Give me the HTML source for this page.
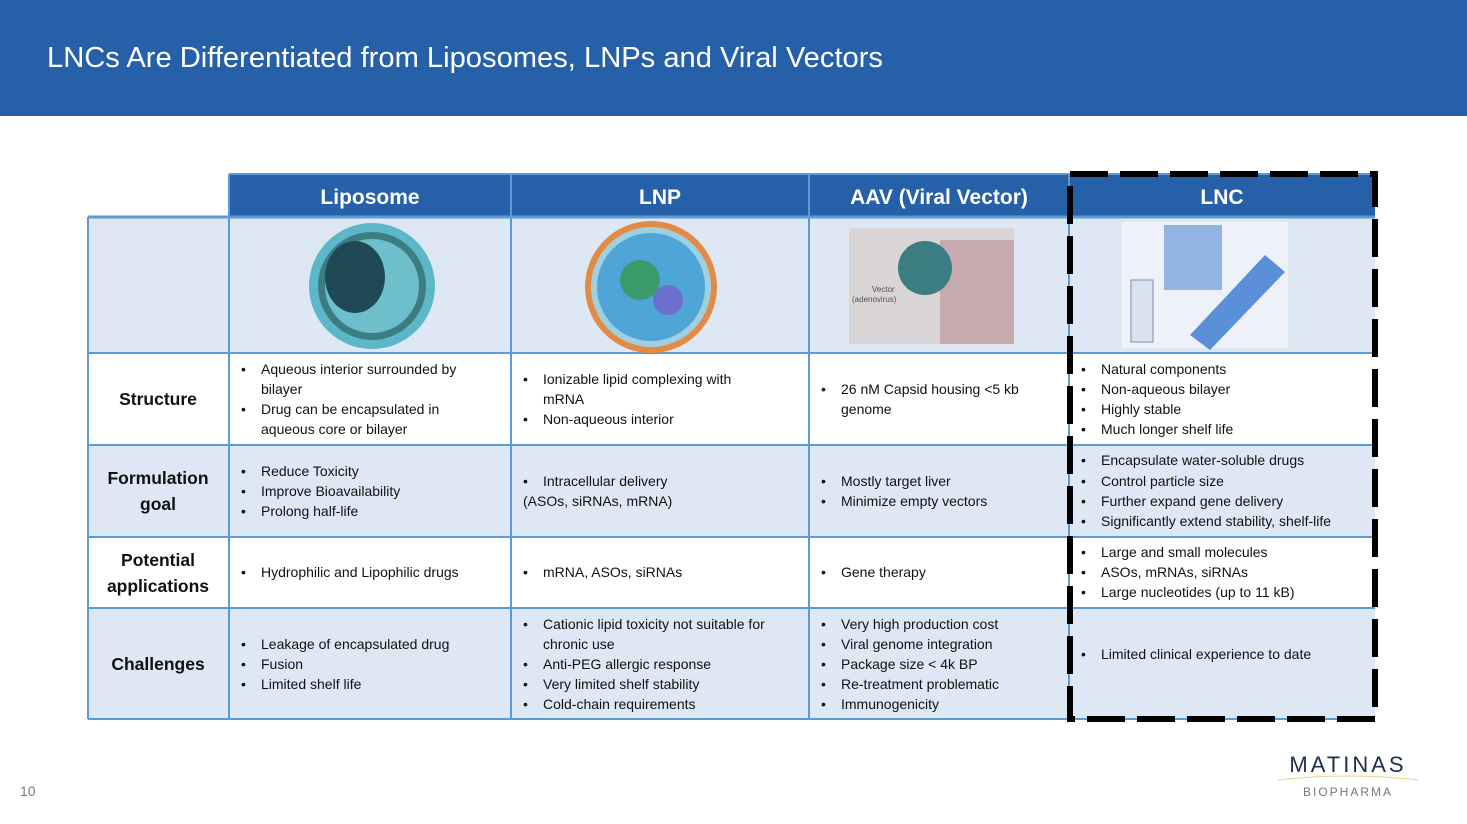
<!DOCTYPE html>
<html><head><meta charset="utf-8"><style>
html,body{margin:0;padding:0;background:#fff;}
svg{display:block;}
text{font-family:"Liberation Sans",sans-serif;}
.t{font-size:14px;fill:#111;}
.h{font-size:21px;font-weight:bold;fill:#fff;text-anchor:middle;}
.l{font-size:17.5px;font-weight:bold;fill:#111;text-anchor:middle;}
</style></head><body>
<svg width="1467" height="824" viewBox="0 0 1467 824" xmlns="http://www.w3.org/2000/svg">
<rect x="0" y="0" width="1467" height="116" fill="#2560a8"/>
<text x="47" y="67" font-size="29" fill="#fff" textLength="836" lengthAdjust="spacingAndGlyphs">LNCs Are Differentiated from Liposomes, LNPs and Viral Vectors</text>

<!-- rows backgrounds -->
<rect x="229" y="174" width="1146" height="43" fill="#2660a9"/>
<rect x="88" y="218" width="1287" height="135" fill="#dde8f4"/>
<rect x="88" y="353" width="1287" height="92" fill="#fff"/>
<rect x="88" y="445" width="1287" height="92" fill="#dde8f4"/>
<rect x="88" y="537" width="1287" height="71" fill="#fff"/>
<rect x="88" y="608" width="1287" height="111" fill="#dde8f4"/>
<!-- grid -->
<g stroke="#5b9bd5" stroke-width="2" fill="none">
<line x1="88" y1="217" x2="1375" y2="217" stroke-width="3"/>
<line x1="229" y1="174" x2="1375" y2="174"/>
<line x1="88" y1="353" x2="1375" y2="353"/>
<line x1="88" y1="445" x2="1375" y2="445"/>
<line x1="88" y1="537" x2="1375" y2="537"/>
<line x1="88" y1="608" x2="1375" y2="608"/>
<line x1="88" y1="719" x2="1375" y2="719"/>
<line x1="88" y1="217" x2="88" y2="719"/>
<line x1="229" y1="174" x2="229" y2="719"/>
<line x1="511" y1="174" x2="511" y2="719"/>
<line x1="809" y1="174" x2="809" y2="719"/>
<line x1="1069" y1="174" x2="1069" y2="719"/>
</g>
<text class="h" x="370" y="204">Liposome</text>
<text class="h" x="660" y="204">LNP</text>
<text class="h" x="939" y="204">AAV (Viral Vector)</text>
<text class="h" x="1222" y="204">LNC</text>

<!-- images -->
<circle cx="372" cy="286" r="63" fill="#5cb8c9"/>
<circle cx="372" cy="286" r="54" fill="#3c7d84"/>
<circle cx="372" cy="286" r="47" fill="#6dbfcc"/>
<ellipse cx="355" cy="277" rx="30" ry="36" fill="#1f4a55"/>
<circle cx="651" cy="287" r="66" fill="#e58a44"/>
<circle cx="651" cy="287" r="60" fill="#9fd0e0"/>
<circle cx="651" cy="287" r="54" fill="#4fa4d8"/>
<circle cx="640" cy="280" r="20" fill="#3a9a6b"/>
<circle cx="668" cy="300" r="15" fill="#6c6fd0"/>
<rect x="849" y="228" width="165" height="116" fill="#d9d4d6"/>
<rect x="940" y="240" width="74" height="104" fill="#c7a9b0"/>
<circle cx="925" cy="268" r="27" fill="#3c7d84"/>
<text x="872" y="292" font-size="8" fill="#555">Vector</text>
<text x="852" y="302" font-size="8" fill="#555">(adenovirus)</text>
<rect x="1122" y="222" width="166" height="126" fill="#eef2f8"/>
<rect x="1164" y="225" width="58" height="65" fill="#8fb5e0"/>
<rect x="1131" y="280" width="22" height="62" fill="#d9e3f0" stroke="#7b8fb0"/>
<path d="M1190 335 L1265 255 L1285 272 L1210 350 Z" fill="#5b90d8"/>

<!-- row labels -->
<text class="l" x="158" y="405">Structure</text>
<text class="l" x="158" y="484">Formulation</text>
<text class="l" x="158" y="510">goal</text>
<text class="l" x="158" y="566">Potential</text>
<text class="l" x="158" y="592">applications</text>
<text class="l" x="158" y="670">Challenges</text>

<g class="t">
<!-- Structure -->
<text x="241" y="374">•</text><text x="261" y="374">Aqueous interior surrounded by</text>
<text x="261" y="394">bilayer</text>
<text x="241" y="414">•</text><text x="261" y="414">Drug can be encapsulated in</text>
<text x="261" y="434">aqueous core or bilayer</text>
<text x="523" y="384">•</text><text x="543" y="384">Ionizable lipid complexing with</text>
<text x="543" y="404">mRNA</text>
<text x="523" y="424">•</text><text x="543" y="424">Non-aqueous interior</text>
<text x="821" y="394">•</text><text x="841" y="394">26 nM Capsid housing &lt;5 kb</text>
<text x="841" y="414">genome</text>
<text x="1081" y="374">•</text><text x="1101" y="374">Natural components</text>
<text x="1081" y="394">•</text><text x="1101" y="394">Non-aqueous bilayer</text>
<text x="1081" y="414">•</text><text x="1101" y="414">Highly stable</text>
<text x="1081" y="434">•</text><text x="1101" y="434">Much longer shelf life</text>
<!-- Formulation -->
<text x="241" y="476">•</text><text x="261" y="476">Reduce Toxicity</text>
<text x="241" y="496">•</text><text x="261" y="496">Improve Bioavailability</text>
<text x="241" y="516">•</text><text x="261" y="516">Prolong half-life</text>
<text x="523" y="486">•</text><text x="543" y="486">Intracellular delivery</text>
<text x="523" y="506">(ASOs, siRNAs, mRNA)</text>
<text x="821" y="486">•</text><text x="841" y="486">Mostly target liver</text>
<text x="821" y="506">•</text><text x="841" y="506">Minimize empty vectors</text>
<text x="1081" y="465">•</text><text x="1101" y="465">Encapsulate water-soluble drugs</text>
<text x="1081" y="486">•</text><text x="1101" y="486">Control particle size</text>
<text x="1081" y="506">•</text><text x="1101" y="506">Further expand gene delivery</text>
<text x="1081" y="526">•</text><text x="1101" y="526">Significantly extend stability, shelf-life</text>
<!-- Potential -->
<text x="241" y="577">•</text><text x="261" y="577">Hydrophilic and Lipophilic drugs</text>
<text x="523" y="577">•</text><text x="543" y="577">mRNA, ASOs, siRNAs</text>
<text x="821" y="577">•</text><text x="841" y="577">Gene therapy</text>
<text x="1081" y="557">•</text><text x="1101" y="557">Large and small molecules</text>
<text x="1081" y="577">•</text><text x="1101" y="577">ASOs, mRNAs, siRNAs</text>
<text x="1081" y="597">•</text><text x="1101" y="597">Large nucleotides (up to 11 kB)</text>
<!-- Challenges -->
<text x="241" y="649">•</text><text x="261" y="649">Leakage of encapsulated drug</text>
<text x="241" y="669">•</text><text x="261" y="669">Fusion</text>
<text x="241" y="689">•</text><text x="261" y="689">Limited shelf life</text>
<text x="523" y="629">•</text><text x="543" y="629">Cationic lipid toxicity not suitable for</text>
<text x="543" y="649">chronic use</text>
<text x="523" y="669">•</text><text x="543" y="669">Anti-PEG allergic response</text>
<text x="523" y="689">•</text><text x="543" y="689">Very limited shelf stability</text>
<text x="523" y="709">•</text><text x="543" y="709">Cold-chain requirements</text>
<text x="821" y="629">•</text><text x="841" y="629">Very high production cost</text>
<text x="821" y="649">•</text><text x="841" y="649">Viral genome integration</text>
<text x="821" y="669">•</text><text x="841" y="669">Package size &lt; 4k BP</text>
<text x="821" y="689">•</text><text x="841" y="689">Re-treatment problematic</text>
<text x="821" y="709">•</text><text x="841" y="709">Immunogenicity</text>
<text x="1081" y="659">•</text><text x="1101" y="659">Limited clinical experience to date</text>
</g>

<!-- dashed LNC box -->
<rect x="1070" y="174" width="305" height="545" fill="none" stroke="#000" stroke-width="6" stroke-dasharray="38,12"/>

<!-- footer -->
<text x="20" y="796" font-size="14" fill="#777">10</text>
<text x="1348" y="772" font-size="22" fill="#1f2d4a" text-anchor="middle" letter-spacing="3">MATINAS</text>
<path d="M1278 780 Q1348 772 1418 780" stroke="#e8d48a" stroke-width="1" fill="none"/>
<text x="1348" y="796" font-size="12" fill="#777" text-anchor="middle" letter-spacing="2">BIOPHARMA</text>
</svg>
</body></html>
